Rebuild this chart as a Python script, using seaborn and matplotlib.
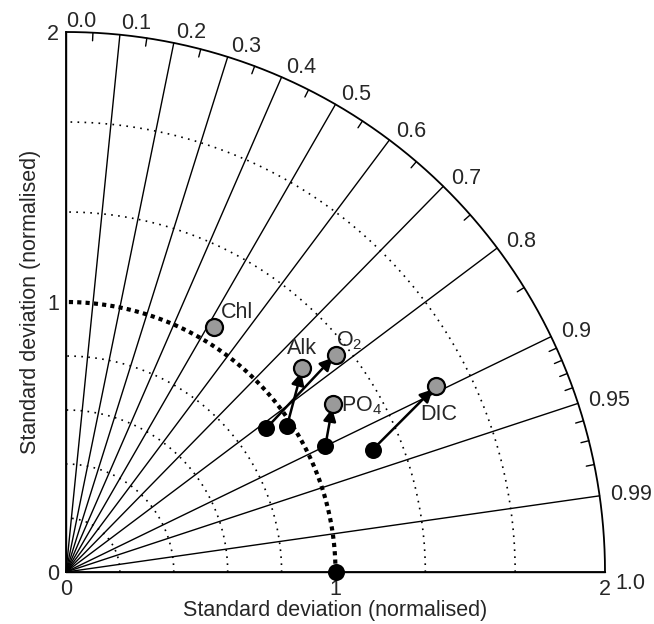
import numpy as np
import pandas as pd
import matplotlib
matplotlib.use('Agg')
import matplotlib.pyplot as plt
import seaborn as sns

# model results (grey) and previous run (black), normalised std and correlation
names = ['Chl', 'Alk', 'O$_2$', 'PO$_4$', 'DIC']
std_new = [1.060, 1.157, 1.284, 1.169, 1.535]
corr_new = [0.517, 0.758, 0.779, 0.847, 0.894]

old_names = ['Alk', 'O$_2$', 'PO$_4$', 'DIC']
std_old = [0.982, 0.914, 1.069, 1.225]
corr_old = [0.835, 0.813, 0.900, 0.929]

ref_std = 1.0
ref_corr = 1.0

corr_lines = [0.0, 0.1, 0.2, 0.3, 0.4, 0.5, 0.6, 0.7, 0.8, 0.9, 0.95, 0.99, 1.0]
corr_labels = ['0.0', '0.1', '0.2', '0.3', '0.4', '0.5', '0.6', '0.7', '0.8', '0.9', '0.95', '0.99', '1.0']
corr_minor = [0.05, 0.15, 0.25, 0.35, 0.45, 0.55, 0.65, 0.75, 0.85,
              0.91, 0.92, 0.93, 0.94, 0.96, 0.97, 0.98]
std_grid = [0.2, 0.4, 0.6, 0.8, 4 / 3, 5 / 3]
std_max = 2.0

FS = 15.5

sns.set_style('white')
plt.rcParams['font.family'] = ['Liberation Sans', 'DejaVu Sans']
plt.rcParams['mathtext.fontset'] = 'custom'
plt.rcParams['mathtext.rm'] = 'Liberation Sans'
plt.rcParams['mathtext.it'] = 'Liberation Sans'
plt.rcParams['mathtext.default'] = 'regular'

fig = plt.figure(figsize=(6.54, 6.24), dpi=100)
ax = fig.add_axes([66 / 654, 52 / 624, 539 / 654, 540 / 624])
ax.set_xlim(0, std_max)
ax.set_ylim(0, std_max)

def to_xy(s, c):
    s = np.asarray(s, dtype=float)
    c = np.asarray(c, dtype=float)
    return s * c, s * np.sqrt(1 - c ** 2)

th = np.linspace(0, np.pi / 2, 300)

# std arcs
for r in std_grid:
    ax.plot(r * np.cos(th), r * np.sin(th), color='black', lw=1.2,
            ls=(0, (1, 3.2)), zorder=1)
ax.plot(ref_std * np.cos(th), ref_std * np.sin(th), color='black', lw=3,
        ls=(0, (1, 1)), zorder=1)

# outer arc
ax.plot(std_max * np.cos(th), std_max * np.sin(th), color='black', lw=1.3,
        zorder=2, clip_on=False)

# correlation lines and labels
for c, lab in zip(corr_lines, corr_labels):
    a = np.arccos(c)
    ax.plot([0, std_max * np.cos(a)], [0, std_max * np.sin(a)], color='black',
            lw=1.0, zorder=2, clip_on=False)
    if c == 1.0:
        ax.text(2.04, -0.005, lab, ha='left', va='top', fontsize=FS)
    else:
        ax.text(2.04 * np.cos(a), 2.04 * np.sin(a), lab, ha='left',
                va='center', fontsize=FS)

for c in corr_minor:
    a = np.arccos(c)
    ax.plot([1.97 * np.cos(a), std_max * np.cos(a)],
            [1.97 * np.sin(a), std_max * np.sin(a)], color='black', lw=1.0,
            zorder=2)

# arrows old -> new
xo, yo = to_xy(std_old, corr_old)
xn, yn = to_xy(std_new, corr_new)
new_pos = {n: (x, y) for n, x, y in zip(names, xn, yn)}
for n, x0, y0 in zip(old_names, xo, yo):
    x1, y1 = new_pos[n]
    ax.annotate('', xy=(x1, y1), xytext=(x0, y0),
                arrowprops=dict(arrowstyle='-|>', color='black', lw=1.8,
                                mutation_scale=19, shrinkA=0, shrinkB=3),
                zorder=3)

df_old = pd.DataFrame({'x': xo, 'y': yo})
df_new = pd.DataFrame({'x': xn, 'y': yn, 'name': names})
rx, ry = to_xy([ref_std], [ref_corr])
df_ref = pd.DataFrame({'x': rx, 'y': ry})

sns.scatterplot(data=df_old, x='x', y='y', color='black', s=150,
                edgecolor='black', linewidth=0, ax=ax, zorder=4)
sns.scatterplot(data=df_new, x='x', y='y', color='#9a9a9a', s=150,
                edgecolor='black', linewidth=1.6, ax=ax, zorder=5)
sns.scatterplot(data=df_ref, x='x', y='y', color='black', s=150,
                edgecolor='black', linewidth=0, ax=ax, zorder=6, clip_on=False)

# point labels
label_style = {
    'Chl': dict(xytext=(5, 3), ha='left', va='bottom'),
    'Alk': dict(xytext=(0, 7), ha='center', va='bottom'),
    'O$_2$': dict(xytext=(0, 6), ha='left', va='baseline'),
    'PO$_4$': dict(xytext=(6, -5), ha='left', va='baseline'),
    'DIC': dict(xytext=(2, -13), ha='center', va='top'),
}
for n, x, y in zip(names, xn, yn):
    st = label_style[n]
    ax.annotate(n, xy=(x, y), xytext=st['xytext'], textcoords='offset points',
                ha=st['ha'], va=st['va'], fontsize=FS, zorder=7)

ax.set_xticks([0, 1, 2])
ax.set_yticks([0, 1, 2])
ax.set_xticklabels(['0', '1', '2'], fontsize=FS)
ax.set_yticklabels(['0', '1', '2'], fontsize=FS)
ax.tick_params(length=0, pad=5)
ax.set_xlabel('Standard deviation (normalised)', fontsize=FS, labelpad=0)
ax.set_ylabel('Standard deviation (normalised)', fontsize=FS, labelpad=4)
for sp in ['top', 'right']:
    ax.spines[sp].set_visible(False)
for sp in ['left', 'bottom']:
    ax.spines[sp].set_linewidth(1.3)
    ax.spines[sp].set_color('black')
ax.grid(False)

fig.savefig('out.png', dpi=100)
